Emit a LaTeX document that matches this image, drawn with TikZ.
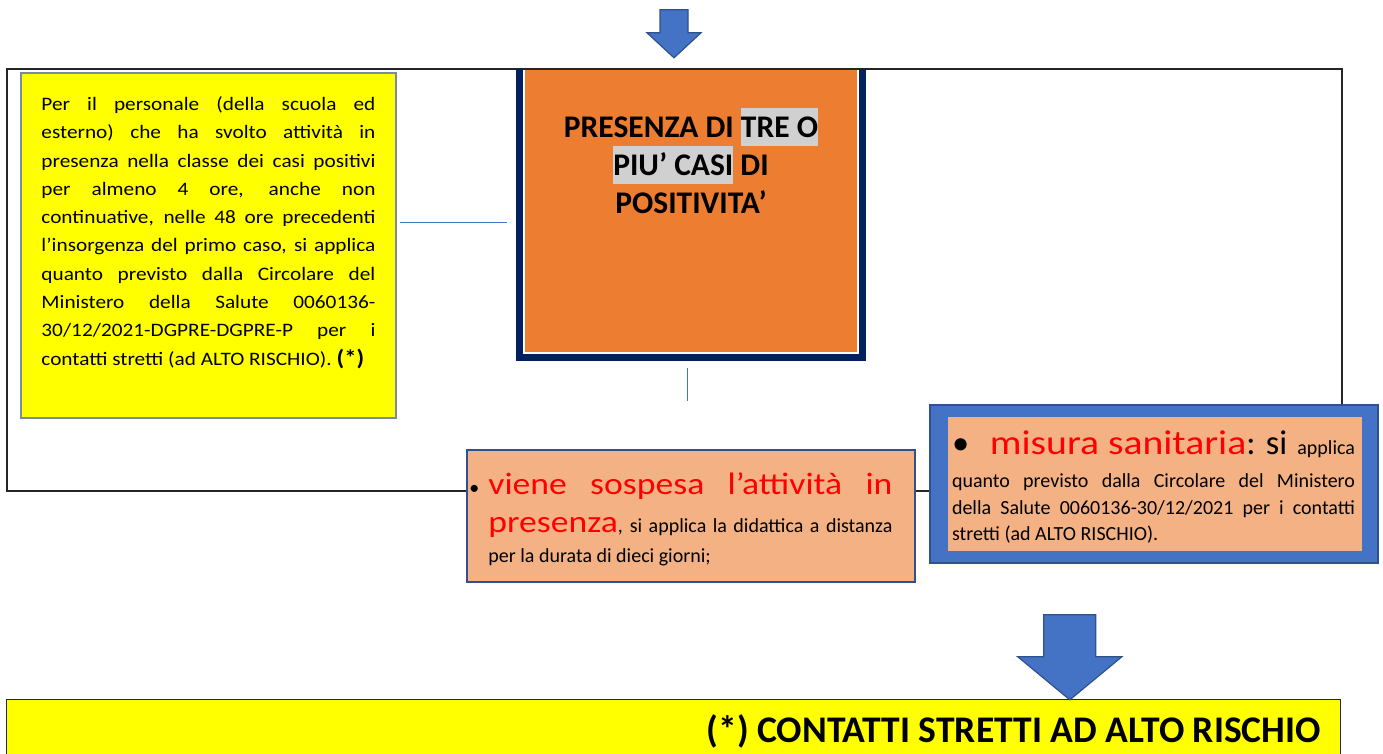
\documentclass[tikz,border=0pt]{standalone}
\usepackage{fontspec}
\setmainfont{Carlito}
\newfontfamily\largafont[FakeStretch=1.12]{Carlito}
\newfontfamily\rossofont[FakeStretch=1.15]{Carlito}
\usetikzlibrary{positioning,calc}
\definecolor{giallo}{HTML}{FFFF00}
\definecolor{arancio}{HTML}{ED7D31}
\definecolor{salmone}{HTML}{F4B183}
\definecolor{blu}{HTML}{4472C4}
\definecolor{bluscuro}{HTML}{2F528F}
\definecolor{navy}{HTML}{002060}
\definecolor{grigioev}{HTML}{D0D0D0}
\definecolor{bordogiallo}{HTML}{7A8AA0}
\def \evid#1{{\setlength{\fboxsep}{0pt}\colorbox{grigioev}{\rule[-9pt]{0pt}{38pt}#1}}}
\def \riga#1#2{\makebox[#1][s]{\spaceskip=0pt\xspaceskip=0pt\relax #2}}

\begin{document}
\begin{tikzpicture}[x=1pt,y=-1pt,
    cornice/.style={draw=black!85,line width=1.2pt},
    gbox/.style={fill=giallo,draw=bordogiallo,line width=1.5pt,
      minimum width=375pt,minimum height=345pt,inner sep=0pt},
    gtext/.style={text width=334pt,inner sep=0pt,align=justify,
      font=\largafont\fontsize{19}{28.3}\selectfont},
    obox/.style={fill=arancio,minimum width=332pt,minimum height=282pt,inner sep=0pt},
    otext/.style={inner sep=0pt,align=center,font=\fontsize{31.5}{38}\selectfont\bfseries},
    sbox/.style={fill=salmone,draw=bluscuro,line width=1.5pt,
      minimum width=448pt,minimum height=132pt,inner sep=0pt},
    stext/.style={text width=#1,inner sep=0pt,align=justify,
      font=\fontsize{20}{30}\selectfont},
    mbox/.style={fill=blu,draw=bluscuro,line width=1.5pt,
      minimum width=448pt,minimum height=158pt,inner sep=0pt},
    link/.style={draw=blu,line width=0.9pt},
    freccia/.style={fill=blu,draw=bluscuro,line width=1.2pt,line join=miter}]
  \useasboundingbox (0,0) rectangle (1383,753);

  % cornice esterna
  \draw[cornice] (7,69) rectangle (1342,491);

  % riquadri
  \node[gbox] (perso) at (208.5,245.5) {};
  \node[obox] (tre) at (691,211) {};
  \draw[navy,line width=7pt] ($(tre.north west)+(-5.5,-1)$)
    |- ($(tre.south east)+(5.5,5.5)$) -- ($(tre.north east)+(5.5,-1)$);
  \node[sbox] (sosp) at (691,516) {};
  \node[mbox] (misura) at (1154,484) {};
  \node[fill=salmone,minimum width=414pt,minimum height=134pt,inner sep=0pt]
    (misurain) at (1155,484) {};
  \node[fill=giallo,minimum width=1333pt,minimum height=60pt,inner sep=0pt]
    (contatti) at (673.5,730) {};
  \draw[line width=1.2pt,black!85] (contatti.south west) -- (contatti.north west)
    -- (contatti.north east) -- (contatti.south east);

  % testi
  \node[gtext,below right=18pt and 21pt of perso.north west] (persotxt) {%
    \rule{0pt}{20pt}\riga{334pt}{Per il personale (della scuola ed}\\
    \riga{334pt}{esterno) che ha svolto attività in}\\
    \riga{334pt}{presenza nella classe dei casi positivi}\\
    \riga{334pt}{per almeno 4 ore, anche non}\\
    \riga{334pt}{continuative, nelle 48 ore precedenti}\\
    \riga{334pt}{l’insorgenza del primo caso, si applica}\\
    \riga{334pt}{quanto previsto dalla Circolare del}\\
    \riga{334pt}{Ministero della Salute 0060136-}\\
    \riga{334pt}{30/12/2021-DGPRE-DGPRE-P per i}\\
    contatti stretti (ad ALTO RISCHIO). {\bfseries\fontsize{22}{28}\selectfont(*)}};
  \node[otext,below=38pt of tre.north] (tretxt) {%
    PRESENZA DI \evid{TRE O}\\
    \evid{PIU’ CASI} DI\\
    POSITIVITA’};
  \node[stext=404pt,below right=15pt and 22pt of sosp.north west] (sosptxt) {%
    \rule{0pt}{30pt}\riga{404pt}{\llap{\textbullet\hspace{9pt}}\color{red}\rossofont
      \fontsize{31}{30}\selectfont viene sospesa l’attività in}\\[8pt]
    \riga{404pt}{\textcolor{red}{\rossofont\fontsize{31}{30}\selectfont presenza},
      si applica la didattica a distanza}\\
    per la durata di dieci giorni;};
  \node[stext=403pt,below right=5pt and 4pt of misurain.north west,
    font=\fontsize{20}{26.5}\selectfont] (misuratxt) {%
    \rule{0pt}{32pt}\riga{403pt}{{\fontsize{34.5}{30}\selectfont\textbullet\hfill
      \textcolor{red}{\rossofont misura sanitaria}: si}\hspace{10pt}applica}\\[7pt]
    \riga{403pt}{quanto previsto dalla Circolare del Ministero}\\
    \riga{403pt}{della Salute 0060136-30/12/2021 per i contatti}\\
    stretti (ad ALTO RISCHIO).};
  \node[anchor=base east,inner sep=0pt,font=\fontsize{37.6}{40}\selectfont\bfseries]
    (contattitxt) at ($(contatti.north east)+(-19,43)$)
    {(*) CONTATTI STRETTI AD ALTO RISCHIO};

  % collegamenti
  \draw[link] ($(perso.east)+(3,-23.5)$) -- ($(perso.east -| tre.west)+(-18,-23.5)$);
  \draw[link] ($(tre.south)+(-4,16)$) -- ($(sosp.north)+(-4,-48)$);

  % frecce
  \filldraw[freccia] ($(tre.north)+(-17,-12)$) -- ++(-27,-25) -- ++(13,0) -- ++(0,-23)
    -- ++(28,0) -- ++(0,23) -- ++(13,0) -- cycle;
  \filldraw[freccia] ($(contatti.north west)+(1063,0)$) -- ++(-52,-43) -- ++(26,0)
    -- ++(0,-42) -- ++(52,0) -- ++(0,42) -- ++(26,0) -- cycle;
\end{tikzpicture}
\end{document}
